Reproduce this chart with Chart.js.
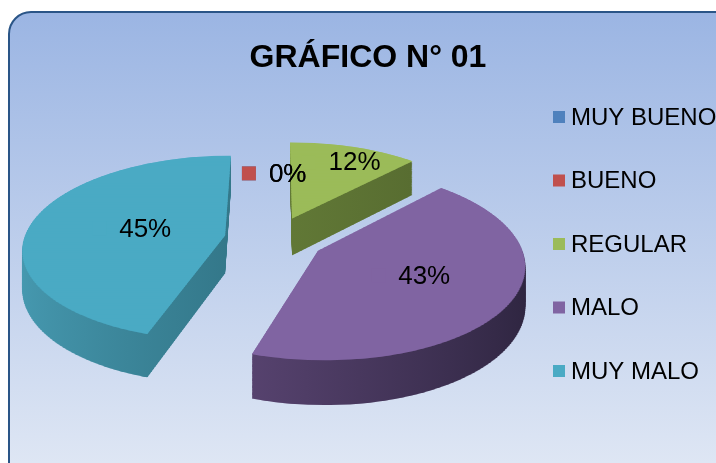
<!DOCTYPE html>
<html>
<head>
<meta charset="utf-8">
<script src="https://cdn.jsdelivr.net/npm/chart.js@4.4.1/dist/chart.umd.min.js"></script>
<style>
  html, body { margin: 0; padding: 0; background: #fff; }
  canvas { display: block; }
</style>
</head>
<body>
<canvas id="chart" width="716" height="463"></canvas>
<script>
// data
const categories = ['MUY BUENO', 'BUENO', 'REGULAR', 'MALO', 'MUY MALO'];
const percents = [0, 0, 12, 43, 45];
const chartTitle = 'GRÁFICO N° 01';

// styles
const topColors = ['#4F81BD', '#C0504D', '#9BBB59', '#8064A2', '#4AAAC4'];
const sideColors = [
  ['#3E6796', '#2B4A6E'],
  ['#9A3F3C', '#6E2C2A'],
  ['#617836', '#586D31'],
  ['#56426E', '#2E2540'],
  ['#4699B0', '#34788A']
];
const labelRadius = [0.545, 0.545, 0.77, 0.5, 0.48];
const FONT = '"Liberation Sans", Arial, sans-serif';
// pie plane seen in perspective: tilt flattens it, dist is the eye distance
const PIE = { x: 274.2, y: 239, radius: 201, tilt: 0.455, dist: 1500, depth: 38, explode: 50, bands: 100 };
const LEGEND = { x: 553, y: 117, step: 63.5, box: 12 };

function midAngle(arc) {
  return (arc.startAngle + arc.endAngle) / 2;
}
function persp(V) {
  return PIE.dist / (PIE.dist - V);
}
function screenY(V, d) {
  const p = persp(V);
  return PIE.y + PIE.tilt * V * p + d * p;
}

function drawArc(ctx, arc, fill) {
  const proxy = Object.create(arc);
  proxy.options = Object.assign({}, arc.options, { backgroundColor: fill, borderWidth: 0, offset: 0, spacing: 0 });
  arc.draw.call(proxy, ctx);
}

// draw an arc element in thin horizontal bands, each band with its own
// affine map, so the exploded slice follows the perspective
function drawProjected(ctx, arc, d, fill, vmin, vmax) {
  const m = midAngle(arc);
  const eu = PIE.explode * Math.cos(m);
  const ev = PIE.explode * Math.sin(m);
  const s = PIE.radius / arc.outerRadius;
  const h = 2 * PIE.radius / PIE.bands;
  for (let j = 0; j < PIE.bands; j++) {
    const v0 = -PIE.radius + j * h;
    const v1 = v0 + h;
    if (v1 < vmin - h || v0 > vmax + h) continue;
    const V0 = ev + v0, V1 = ev + v1;
    const pm = persp((V0 + V1) / 2);
    const Y0 = screenY(V0, d), Y1 = screenY(V1, d);
    const sy = s * (Y1 - Y0) / h;
    const a = s * pm;
    ctx.save();
    ctx.transform(a, 0, 0, sy, PIE.x + eu * pm - arc.x * a, Y0 - (arc.y + v0 / s) * sy);
    ctx.beginPath();
    ctx.rect(arc.x - 2000, arc.y + v0 / s, 4000, h / s + 1 / sy);
    ctx.clip();
    drawArc(ctx, arc, fill);
    ctx.restore();
  }
}

const pie3d = {
  id: 'pie3d',
  beforeDraw(chart) {
    const ctx = chart.ctx;
    ctx.save();
    ctx.fillStyle = '#fff';
    ctx.fillRect(0, 0, chart.width, chart.height);
    const g = ctx.createLinearGradient(0, 12, 0, 463);
    g.addColorStop(0, '#9BB5E3');
    g.addColorStop(1, '#DEE6F4');
    ctx.beginPath();
    ctx.roundRect(9, 12, 740, 480, 22);
    ctx.fillStyle = g;
    ctx.fill();
    ctx.lineWidth = 2;
    ctx.strokeStyle = '#2A5587';
    ctx.stroke();
    ctx.restore();
  },
  beforeDatasetsDraw(chart) {
    const ctx = chart.ctx;
    const arcs = chart.getDatasetMeta(0).data;
    const order = arcs.map((a, i) => i)
      .filter(i => arcs[i].circumference > 0)
      .sort((a, b) => Math.sin(midAngle(arcs[a])) - Math.sin(midAngle(arcs[b])));

    order.forEach(i => {
      const arc = arcs[i];
      let minC = 0, maxC = 0, minS = 0, maxS = 0;
      for (let k = 0; k <= 60; k++) {
        const t = arc.startAngle + (arc.endAngle - arc.startAngle) * k / 60;
        minC = Math.min(minC, Math.cos(t));
        maxC = Math.max(maxC, Math.cos(t));
        minS = Math.min(minS, Math.sin(t));
        maxS = Math.max(maxS, Math.sin(t));
      }
      const vmin = minS * PIE.radius, vmax = maxS * PIE.radius;
      const side = ctx.createLinearGradient(arc.x + arc.outerRadius * minC, 0, arc.x + arc.outerRadius * maxC, 0);
      side.addColorStop(0, sideColors[i][0]);
      side.addColorStop(1, sideColors[i][1]);
      for (let d = PIE.depth; d >= 1; d--) {
        drawProjected(ctx, arc, d, side, vmin, vmax);
      }
      drawProjected(ctx, arc, 0, topColors[i], vmin, vmax);
    });
    return false;
  },
  afterDraw(chart) {
    const ctx = chart.ctx;
    const arcs = chart.getDatasetMeta(0).data;
    ctx.save();
    ctx.textBaseline = 'middle';
    ctx.textAlign = 'left';

    // data labels with legend key
    ctx.font = '26px ' + FONT;
    arcs.forEach((arc, i) => {
      const m = midAngle(arc);
      const L = PIE.explode + labelRadius[i] * PIE.radius;
      const U = L * Math.cos(m), V = L * Math.sin(m);
      const gx = PIE.x + U * persp(V);
      const gy = screenY(V, 0);
      const text = percents[i] + '%';
      const w = 14 + 13 + ctx.measureText(text).width;
      const left = gx - w / 2;
      ctx.fillStyle = topColors[i];
      ctx.fillRect(left, gy - 7, 14, 14);
      ctx.fillStyle = '#000';
      ctx.fillText(text, left + 27, gy + 1);
    });

    // legend
    ctx.font = '24px ' + FONT;
    categories.forEach((c, i) => {
      const y = LEGEND.y + i * LEGEND.step;
      ctx.fillStyle = topColors[i];
      ctx.fillRect(LEGEND.x, y - LEGEND.box / 2, LEGEND.box, LEGEND.box);
      ctx.fillStyle = '#000';
      ctx.fillText(c, LEGEND.x + 18, y + 1);
    });
    ctx.restore();
  }
};

new Chart(document.getElementById('chart'), {
  type: 'pie',
  data: {
    labels: categories,
    datasets: [{
      data: percents,
      backgroundColor: topColors,
      borderWidth: 0,
      clip: false
    }]
  },
  options: {
    responsive: false,
    animation: false,
    layout: { padding: { left: 20 } },
    plugins: {
      legend: { display: false },
      tooltip: { enabled: false },
      title: {
        display: true,
        text: chartTitle,
        color: '#000',
        font: { family: FONT, size: 32, weight: 'bold' },
        padding: { top: 39, bottom: 10 }
      }
    }
  },
  plugins: [pie3d]
});
</script>
</body>
</html>
